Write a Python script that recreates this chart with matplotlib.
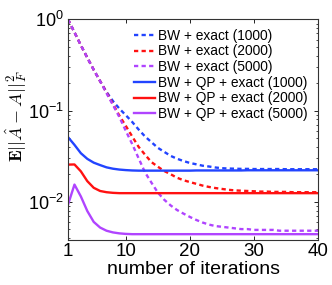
import matplotlib
matplotlib.use("Agg")
import matplotlib.pyplot as plt
from matplotlib.ticker import LogLocator, NullFormatter, FixedLocator

plt.rcParams['font.family'] = ['Liberation Sans', 'DejaVu Sans']
plt.rcParams['mathtext.fontset'] = 'cm'

iterations = list(range(1, 41))

bw_exact_1000 = [1.0, 0.72, 0.52, 0.38, 0.28, 0.21, 0.16, 0.127, 0.105, 0.089,
                 0.075, 0.062, 0.052, 0.045, 0.039, 0.0352, 0.0318, 0.0296, 0.0279, 0.0266,
                 0.0257, 0.0248, 0.0243, 0.0237, 0.0233, 0.0231, 0.0230, 0.0229, 0.0229, 0.0228,
                 0.0228, 0.0228, 0.0228, 0.0228, 0.0227, 0.0227, 0.0227, 0.0227, 0.0227, 0.0227]
bw_exact_2000 = [1.0, 0.72, 0.52, 0.38, 0.28, 0.21, 0.158, 0.118, 0.088, 0.068,
                 0.052, 0.040, 0.0328, 0.0272, 0.0242, 0.0217, 0.0200, 0.0183, 0.0172, 0.0164,
                 0.0157, 0.0150, 0.0145, 0.0141, 0.0138, 0.0135, 0.0133, 0.0132, 0.0131, 0.0130,
                 0.0129, 0.0129, 0.0128, 0.0128, 0.0128, 0.0127, 0.0127, 0.0127, 0.0127, 0.0127]
bw_exact_5000 = [1.0, 0.72, 0.52, 0.38, 0.28, 0.21, 0.155, 0.115, 0.085, 0.060,
                 0.043, 0.030, 0.021, 0.0162, 0.0126, 0.0105, 0.0091, 0.0081, 0.0074, 0.0068,
                 0.0063, 0.0059, 0.0056, 0.0054, 0.0053, 0.0052, 0.0051, 0.0050, 0.0050, 0.0049,
                 0.0049, 0.0049, 0.0049, 0.0048, 0.0048, 0.0048, 0.0048, 0.0048, 0.0048, 0.0048]
bw_qp_1000 = [0.051, 0.042, 0.034, 0.0295, 0.0268, 0.0252, 0.0238, 0.0230, 0.0225, 0.0222,
              0.0220, 0.0219, 0.0219, 0.0219, 0.0219, 0.0219, 0.0219, 0.0219, 0.0219, 0.0219,
              0.0220, 0.0220, 0.0220, 0.0220, 0.0220, 0.0220, 0.0220, 0.0220, 0.0221, 0.0221,
              0.0221, 0.0221, 0.0221, 0.0221, 0.0221, 0.0221, 0.0221, 0.0221, 0.0221, 0.0221]
bw_qp_2000 = [0.0255, 0.0256, 0.0215, 0.0168, 0.0142, 0.0131, 0.0127, 0.0125, 0.0124, 0.0124,
              0.0124, 0.0124, 0.0124, 0.0124, 0.0124, 0.0124, 0.0124, 0.0124, 0.0124, 0.0124,
              0.0124, 0.0124, 0.0124, 0.0124, 0.0124, 0.0124, 0.0124, 0.0124, 0.0124, 0.0124,
              0.0124, 0.0124, 0.0124, 0.0124, 0.0124, 0.0124, 0.0124, 0.0124, 0.0124, 0.0124]
bw_qp_5000 = [0.0093, 0.0154, 0.0114, 0.0079, 0.0060, 0.0052, 0.0048, 0.0046, 0.00449, 0.00443,
              0.0044, 0.0044, 0.0044, 0.0044, 0.0044, 0.0044, 0.0044, 0.0044, 0.0044, 0.0044,
              0.0044, 0.0044, 0.0044, 0.0044, 0.0044, 0.0044, 0.0044, 0.0044, 0.0044, 0.0044,
              0.0044, 0.0044, 0.0044, 0.0044, 0.0044, 0.0044, 0.0044, 0.0044, 0.0044, 0.0044]

labels = ['BW + exact (1000)', 'BW + exact (2000)', 'BW + exact (5000)',
          'BW + QP + exact (1000)', 'BW + QP + exact (2000)', 'BW + QP + exact (5000)']
xticks = [1, 10, 20, 30, 40]

blue = '#2244ff'
red = '#ff1111'
purple = '#b044ff'

fig = plt.figure(figsize=(3.32, 2.85), dpi=100)
ax = fig.add_axes([0.205, 0.158, 0.753, 0.774])

dash = (0, (1.8, 1.4))
series = [(bw_exact_1000, blue, dash), (bw_exact_2000, red, dash),
          (bw_exact_5000, purple, dash),
          (bw_qp_1000, blue, '-'), (bw_qp_2000, red, '-'), (bw_qp_5000, purple, '-')]
for (vals, col, ls), lab in zip(series, labels):
    ax.plot(iterations, vals, color=col, linestyle=ls, linewidth=1.7, label=lab)

ax.set_yscale('log')
ax.set_xlim(1, 40)
ax.set_ylim(0.0038, 1)
ax.xaxis.set_major_locator(FixedLocator(xticks))
ax.set_xticklabels([str(t) for t in xticks])
ax.yaxis.set_major_locator(LogLocator(base=10, numticks=10))
ax.yaxis.set_minor_locator(LogLocator(base=10, subs=range(2, 10), numticks=10))
ax.yaxis.set_minor_formatter(NullFormatter())

ax.tick_params(which='both', direction='in', top=True, right=True)
ax.tick_params(axis='x', labelsize=13.5, pad=2)
ax.tick_params(axis='y', labelsize=13, pad=3)
ax.tick_params(which='major', length=3, width=0.6)
ax.tick_params(which='minor', length=1.6, width=0.5)
for sp in ax.spines.values():
    sp.set_linewidth(0.8)
    sp.set_color('#333333')

ax.set_xlabel('number of iterations', fontsize=14, labelpad=0)
ax.xaxis.set_label_coords(0.5, -0.095)
ax.set_ylabel(r'$\mathbf{E}||\hat{A}-A||_F^2$', fontsize=13)
ax.yaxis.set_label_coords(-0.155, 0.56)

leg = ax.legend(loc='upper right', frameon=False, fontsize=9.9, handlelength=1.5,
                handletextpad=0.2, labelspacing=0.12, borderaxespad=0.2,
                bbox_to_anchor=(0.99, 0.995))

fig.savefig('out.png', dpi=100)
